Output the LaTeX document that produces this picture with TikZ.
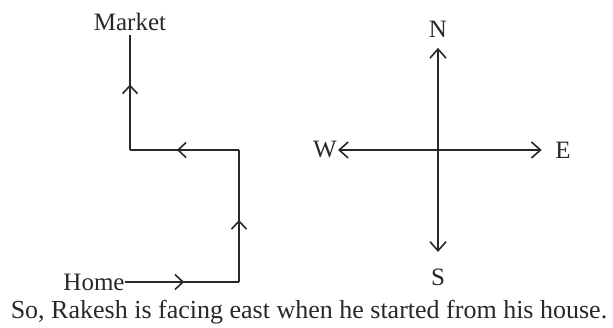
\documentclass[tikz,border=0pt]{standalone}
\usepackage{fontspec}
\setmainfont{Liberation Serif}
\usetikzlibrary{arrows.meta,decorations.markings,positioning}
\definecolor{RouteGray}{RGB}{40,40,40}
\tikzset{
  route/.style={line width=1.6pt,RouteGray},
  midarrow/.style={postaction={decorate},
    decoration={markings,mark=at position #1 with {\arrow{Straight Barb[length=8pt,width=15pt,line width=1.6pt]}}}},
  lbl/.style={inner sep=0pt,font=\fontsize{25}{30}\selectfont,text=RouteGray},
}

\begin{document}
\begin{tikzpicture}[x=1pt,y=1pt,>={Straight Barb[length=9pt,width=16pt,line width=1.6pt]}]
      \useasboundingbox (0,0) rectangle (613,327);
      % route from home to market
      \node[lbl] (home) at (94,45) {Home};
      \node[lbl] (market) at (130,305) {Market};
      \coordinate (turnA) at (239,45);
      \coordinate (turnB) at (239,177);
      \coordinate (turnC) at (130,177);
      \draw[route,midarrow=0.52] (home) -- (turnA);
      \draw[route,midarrow=0.47] (turnA) -- (turnB);
      \draw[route,midarrow=0.57] (turnB) -- (turnC);
      \draw[route,midarrow=0.55,shorten >=4pt] (turnC) -- (market);
      % directions
      \node[lbl] (north) at (438,298) {N};
      \node[lbl] (south) at (438,50) {S};
      \node[lbl] (west) at (325,177) {W};
      \node[lbl] (east) at (563,177) {E};
      \draw[route,<->,shorten <=10.5pt,shorten >=16.5pt] (north) -- (south);
      \draw[route,<->,shorten <=1pt,shorten >=13.5pt] (west) -- (east);
      \node[lbl,font=\fontsize{26}{31}\selectfont,anchor=base] (note) at (309,9)
        {So, Rakesh is facing east when he started from his house.};
    \end{tikzpicture}
\end{document}
